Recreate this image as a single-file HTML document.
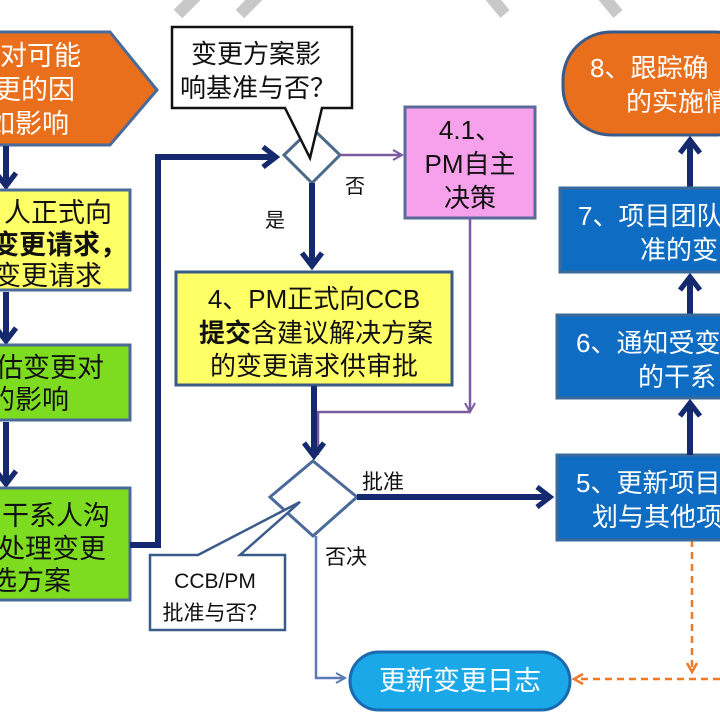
<!DOCTYPE html>
<html><head><meta charset="utf-8"><style>
html,body{margin:0;padding:0;background:#fff;width:720px;height:720px;overflow:hidden}
svg{display:block}
text{font-family:"Liberation Sans","Noto Sans CJK SC",sans-serif}
</style></head><body>
<svg width="720" height="720" viewBox="0 0 720 720" xmlns="http://www.w3.org/2000/svg">
<defs>
<marker id="nv" markerWidth="24" markerHeight="24" refX="8" refY="6" orient="auto" markerUnits="userSpaceOnUse" viewBox="0 0 12 12"><path d="M1.5,1 L8,6 L1.5,11" fill="none" stroke="#15296e" stroke-width="2.6"/></marker>
<marker id="pu" markerWidth="14" markerHeight="14" refX="11" refY="7" orient="auto" markerUnits="userSpaceOnUse"><path d="M2,2 L11,7 L2,12" fill="none" stroke="#7a5aa0" stroke-width="2"/></marker>
<marker id="bl" markerWidth="14" markerHeight="14" refX="11" refY="7" orient="auto" markerUnits="userSpaceOnUse"><path d="M2,2 L11,7 L2,12" fill="none" stroke="#5a7ab8" stroke-width="2"/></marker>
<marker id="or" markerWidth="14" markerHeight="14" refX="11" refY="7" orient="auto" markerUnits="userSpaceOnUse"><path d="M2,2 L11,7 L2,12" fill="none" stroke="#ee7a2a" stroke-width="2.5"/></marker>
</defs>
<g stroke="#c8c8c8" stroke-width="12">
<line x1="178" y1="14" x2="196" y2="-4"/><line x1="240" y1="14" x2="258" y2="-4"/>
<line x1="505" y1="14" x2="490" y2="-4"/><line x1="618" y1="14" x2="603" y2="-4"/>
</g>
<path d="M-5,32 L110,32 L157,90 L110,145 L-5,145 Z" fill="#ea6f1c" stroke="#4a6a9a" stroke-width="3"/>
<g fill="#fff" font-size="27"><text x="0" y="65">对可能</text><text x="-6" y="99">更的因</text><text x="-12" y="133">如影响</text></g>
<g stroke="#15296e" stroke-width="6" fill="none" marker-end="url(#nv)">
<line x1="6" y1="146" x2="6" y2="186"/><line x1="6" y1="292" x2="6" y2="341"/><line x1="6" y1="422" x2="6" y2="484"/>
</g>
<rect x="-5" y="190" width="135" height="100" fill="#ffff66" stroke="#4a6a9a" stroke-width="3"/>
<g font-size="27" fill="#111"><text x="4" y="222">人正式向</text><text x="-8" y="254" font-weight="bold">变更请求，</text><text x="-6" y="285">变更请求</text></g>
<rect x="-5" y="345" width="135" height="75" fill="#7ddc1f" stroke="#4a6a9a" stroke-width="3"/>
<g font-size="27" fill="#111"><text x="-4" y="377">估变更对</text><text x="-12" y="409">的影响</text></g>
<rect x="-5" y="488" width="135" height="112" fill="#7ddc1f" stroke="#4a6a9a" stroke-width="3"/>
<g font-size="27" fill="#111"><text x="2" y="525">干系人沟</text><text x="-2" y="558">处理变更</text><text x="-10" y="590">选方案</text></g>
<path d="M130,545 L158,545 L158,157 L276,157" fill="none" stroke="#15296e" stroke-width="6" marker-end="url(#nv)"/>
<path d="M312,128 L340,155 L312,183 L284,155 Z" fill="#fff" stroke="#4a6a8a" stroke-width="3"/>
<path d="M172,27 L352,27 L352,108 L322,108 L310,158 L285,108 L172,108 Z" fill="#fff" stroke="#111" stroke-width="2.5"/>
<g font-size="26" fill="#111"><text x="191" y="63">变更方案影</text><text x="180" y="97">响基准与否？</text></g>
<text x="345" y="193" font-size="20" fill="#111">否</text>
<line x1="340" y1="155" x2="402" y2="155" stroke="#7a5aa0" stroke-width="2.5" marker-end="url(#pu)"/>
<rect x="405" y="107" width="130" height="111" fill="#f7a0ec" stroke="#5a6a9a" stroke-width="3"/>
<g font-size="26" fill="#111" text-anchor="middle"><text x="470" y="139">4.1、</text><text x="470" y="173">PM自主</text><text x="470" y="207">决策</text></g>
<text x="265" y="227" font-size="20" fill="#111">是</text>
<line x1="312" y1="183" x2="312" y2="266" stroke="#15296e" stroke-width="6" marker-end="url(#nv)"/>
<rect x="176" y="272" width="276" height="113" fill="#ffff66" stroke="#3a5a8a" stroke-width="3"/>
<g font-size="26" fill="#111" text-anchor="middle"><text x="314" y="308">4、PM正式向CCB</text><text x="316" y="342"><tspan font-weight="bold">提交</tspan>含建议解决方案</text><text x="314" y="375">的变更请求供审批</text></g>
<path d="M470,218 L470,412" fill="none" stroke="#7a5aa0" stroke-width="2.5" marker-end="url(#pu)"/>
<path d="M470,412 L318,412 L318,455" fill="none" stroke="#7a5aa0" stroke-width="2.5"/>
<line x1="314" y1="386" x2="314" y2="456" stroke="#15296e" stroke-width="6" marker-end="url(#nv)"/>
<path d="M313,461 L357,497 L313,536 L270,497 Z" fill="#fff" stroke="#4a6a9a" stroke-width="3"/>
<text x="362" y="489" font-size="21" fill="#111">批准</text>
<line x1="357" y1="497" x2="550" y2="497" stroke="#15296e" stroke-width="6" marker-end="url(#nv)"/>
<text x="325" y="564" font-size="21" fill="#111">否决</text>
<path d="M316,536 L316,678 L345,678" fill="none" stroke="#5a7ab8" stroke-width="2.5" marker-end="url(#bl)"/>
<path d="M150,555 L198,555 L300,502 L240,555 L285,555 L285,630 L150,630 Z" fill="#fff" stroke="#3a5a8a" stroke-width="2.5"/>
<g font-size="21" fill="#111" text-anchor="middle"><text x="215" y="588" font-family="Liberation Mono">CCB/PM</text><text x="215" y="620">批准与否？</text></g>
<rect x="350" y="652" width="220" height="58" rx="29" fill="#1aa8e8" stroke="#1a6ab0" stroke-width="3"/>
<text x="460" y="690" font-size="27" fill="#fff" text-anchor="middle">更新变更日志</text>
<g stroke="#ee7a2a" stroke-width="2.5" stroke-dasharray="7,5" fill="none">
<line x1="692" y1="540" x2="692" y2="672" marker-end="url(#or)"/>
<line x1="720" y1="679" x2="574" y2="679" marker-end="url(#or)"/>
</g>
<rect x="557" y="455" width="170" height="85" fill="#0e6cc2" stroke="#3a6a9a" stroke-width="3"/>
<g font-size="26" fill="#fff"><text x="576" y="492">5、更新项目</text><text x="592" y="526">划与其他项</text></g>
<g stroke="#15296e" stroke-width="6" fill="none" marker-end="url(#nv)">
<line x1="690" y1="455" x2="690" y2="403"/><line x1="690" y1="315" x2="690" y2="277"/><line x1="690" y1="188" x2="690" y2="140"/>
</g>
<rect x="557" y="315" width="170" height="83" fill="#0e6cc2" stroke="#3a6a9a" stroke-width="3"/>
<g font-size="26" fill="#fff"><text x="576" y="352">6、通知受变</text><text x="638" y="386">的干系</text></g>
<rect x="560" y="188" width="167" height="84" fill="#0e6cc2" stroke="#3a6a9a" stroke-width="3"/>
<g font-size="26" fill="#fff"><text x="578" y="225">7、项目团队</text><text x="640" y="259">准的变</text></g>
<rect x="563" y="32" width="200" height="103" rx="48" fill="#ea6f1c" stroke="#3a5a8a" stroke-width="3"/>
<g font-size="26" fill="#fff"><text x="590" y="77">8、跟踪确</text><text x="626" y="111">的实施情</text></g>
</svg>
</body></html>
